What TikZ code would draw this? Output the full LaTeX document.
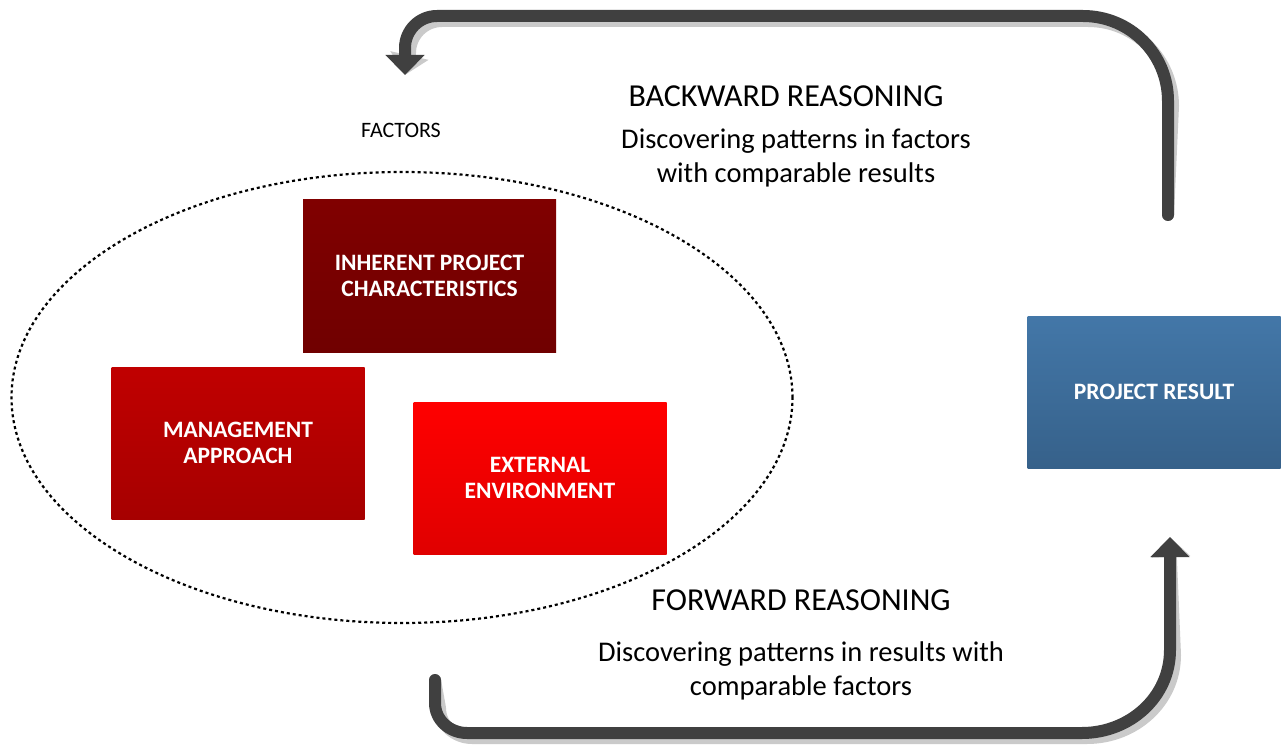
\documentclass[tikz,border=0pt]{standalone}
\usepackage{fontspec}
\setmainfont{Carlito}
\usetikzlibrary{arrows.meta}
\definecolor{arrowdark}{HTML}{404040}
\definecolor{arrowshadow}{HTML}{CACACA}
\tikzset{
  x=1pt,y=1pt,
  box/.style={minimum width=253pt,minimum height=152pt,inner sep=0pt,text=white,
    font=\fontsize{23.5}{26}\selectfont\bfseries,align=center},
  loop/.style={line width=12pt,line cap=round,-{Triangle[length=20pt,width=38pt]}},
  title/.style={font=\fontsize{32}{38}\selectfont,align=center},
  sub/.style={font=\fontsize{28.5}{34}\selectfont,align=center},
}
\begin{document}
\begin{tikzpicture}
\useasboundingbox (0,0) rectangle (1283,-746);
% ellipse
\draw[line width=2.2pt,dash pattern=on 3pt off 3pt] (402,-397.5) ellipse [x radius=390.5,y radius=225.5];
% boxes
\node[box,top color={rgb,255:red,128;green,0;blue,0},bottom color={rgb,255:red,112;green,0;blue,0}] (inh) at (429.5,-276) {INHERENT PROJECT\\CHARACTERISTICS};
\node[box,top color={rgb,255:red,192;green,0;blue,0},bottom color={rgb,255:red,166;green,0;blue,0}] (man) at (238,-443) {MANAGEMENT\\APPROACH};
\node[box,top color={rgb,255:red,255;green,0;blue,0},bottom color={rgb,255:red,224;green,0;blue,0}] (ext) at (540,-478) {EXTERNAL\\ENVIRONMENT};
\node[box,top color={rgb,255:red,67;green,119;blue,168},bottom color={rgb,255:red,54;green,97;blue,138}] (res) at (1154,-392) {PROJECT RESULT};
% texts
\node[font=\fontsize{22}{26}\selectfont] (fac) at (401,-130) {FACTORS};
\node[title] (bw) at (786,-96) {BACKWARD REASONING};
\node[sub] (bws) at (796,-158) {Discovering patterns in factors\\with comparable results};
\node[title] (fw) at (801,-600) {FORWARD REASONING};
\node[sub] (fws) at (801,-671) {Discovering patterns in results with\\comparable factors};
% arrows
\coordinate (ts) at (1168,-215);
\coordinate (te) at (405,-75);
\coordinate (bs) at (435,-680);
\coordinate (be) at (1170,-537);
\begin{scope}[shift={(5,-5)},draw=arrowshadow,color=arrowshadow]
\draw[loop] (ts) -- (1168,-101) to[out=90,in=0] (1083,-16) -- (437,-16) to[out=180,in=90] (405,-48) -- (te);
\draw[loop] (bs) -- (435,-703) to[out=-90,in=180] (467,-733) -- (1082,-733) to[out=0,in=-90] (1170,-650) -- (be);
\end{scope}
\draw[loop,arrowdark] (ts) -- (1168,-101) to[out=90,in=0] (1083,-16) -- (437,-16) to[out=180,in=90] (405,-48) -- (te);
\draw[loop,arrowdark] (bs) -- (435,-703) to[out=-90,in=180] (467,-733) -- (1082,-733) to[out=0,in=-90] (1170,-650) -- (be);
\end{tikzpicture}
\end{document}
